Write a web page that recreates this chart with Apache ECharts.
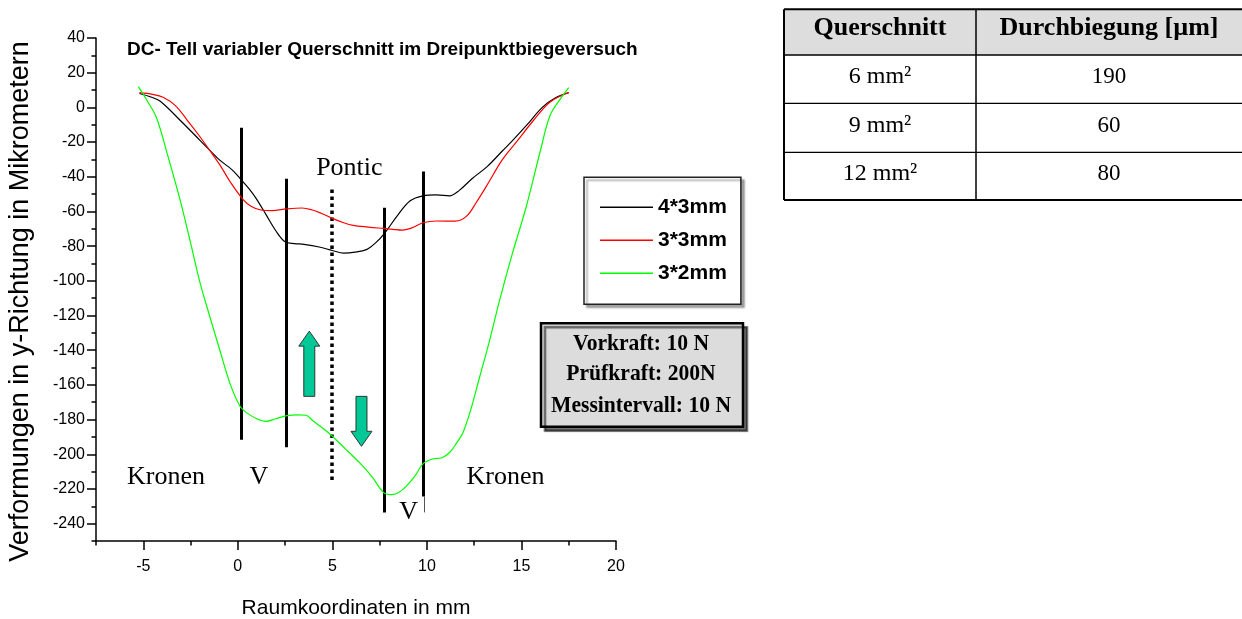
<!DOCTYPE html>
<html><head><meta charset="utf-8">
<script src="https://cdn.jsdelivr.net/npm/echarts@6/dist/echarts.min.js"></script>
<style>html,body{margin:0;padding:0;background:#fff}#c{width:1242px;height:619px}</style>
</head><body><div id="c"></div>
<script>
// ---------- data ----------
const seriesNames = ['4*3mm', '3*3mm', '3*2mm'];
const curve43 = [[-5.2,8],[-4.6,6],[-4.1,3.5],[-3.0,-8],[-2.0,-19],[-1.0,-30],[-0.3,-36],[0.2,-42],[0.6,-47],[1.0,-53],[1.5,-62],[2.0,-71],[2.5,-77.5],[3.0,-78.5],[3.5,-79],[4.3,-80.5],[5.0,-82.5],[5.6,-84],[6.2,-83.5],[6.8,-82],[7.3,-78],[7.8,-72],[8.4,-63],[9.1,-54],[9.8,-51],[10.5,-50.5],[11.2,-51],[11.7,-48],[12.4,-41],[13.2,-34],[14.0,-25],[14.5,-19.5],[15.3,-10],[16.1,0],[16.8,5.5],[17.5,8.5]];
const curve33 = [[-5.2,8.5],[-4.5,7.5],[-3.95,5.8],[-3.3,1],[-2.7,-7],[-2.1,-15.5],[-1.47,-25],[-0.9,-34],[-0.4,-43],[0.27,-53],[0.7,-57],[1.17,-59],[1.8,-59.5],[2.6,-58.5],[3.4,-58],[3.9,-59],[4.4,-61],[5.0,-64],[5.6,-66.5],[6.1,-68],[6.9,-69],[7.7,-69.8],[8.2,-70.3],[8.7,-70.8],[9.2,-69.5],[9.8,-66.5],[10.5,-65.5],[11.5,-65.6],[12.1,-62.7],[12.6,-55],[13.15,-45.4],[14.0,-30],[14.8,-19],[15.6,-8],[16.5,3],[17.5,8.6]];
const curve32 = [[-5.26,12],[-4.8,4],[-4.3,-6],[-3.7,-28],[-3.06,-53],[-2.5,-78],[-2.0,-101],[-1.47,-121],[-0.95,-140],[-0.42,-159],[0.1,-172],[0.46,-176],[1.0,-179.5],[1.5,-181],[2.0,-179.5],[2.6,-177.7],[3.2,-177.3],[3.6,-177.5],[4.0,-181],[4.5,-185],[5.0,-189.6],[5.7,-197],[6.45,-205],[7.1,-213],[7.7,-222],[8.1,-223.3],[8.5,-222],[8.9,-218.5],[9.4,-212],[9.8,-205.4],[10.3,-202.7],[10.8,-202],[11.2,-199],[11.6,-193],[11.9,-187.7],[12.3,-175],[12.8,-155],[13.3,-135],[13.85,-111],[14.5,-85],[15.26,-57],[16.0,-25],[16.5,-5],[17.0,4],[17.5,11.4]];

const xMajorTicks = [-5, 0, 5, 10, 15, 20];
const yMajorTicks = [-240,-220,-200,-180,-160,-140,-120,-100,-80,-60,-40,-20,0,20,40];

const dividerX = [0.2, 2.55, 7.74, 9.8];
const dividerTop = [-11.7, -41.1, -57.9, -36.9];
const dividerBottom = [-191.6, -196, -233.5, -224.3];
const ponticX = 4.97, ponticTop = -47.3, ponticBottom = -216.6;
const thinX = 9.85, thinTop = -224.3, thinBottom = -233.5;

const arrowX = [3.78, 6.54];
const arrowFrom = [-166.6, -166.6];
const arrowTo = [-129, -195.4];

const annotationText = ['Pontic', 'Kronen', 'V', 'Kronen', 'V'];
const annotationX = [5.9, -3.8, 1.11, 14.16, 9.03];
const annotationY = [-35.2, -213.2, -213, -213.2, -233.4];

const titleText = 'DC- Tell variabler Querschnitt im Dreipunktbiegeversuch';
const xName = 'Raumkoordinaten in mm';
const yName = 'Verformungen in y-Richtung in Mikrometern';
const infoLines = ['Vorkraft: 10 N', 'Prüfkraft: 200N', 'Messintervall: 10 N'];
const tableHeader = ['Querschnitt', 'Durchbiegung [µm]'];
const tableCrossSection = ['6 mm²', '9 mm²', '12 mm²'];
const tableDeflection = ['190', '60', '80'];

// ---------- styles ----------
const SANS = '"Liberation Sans", Arial, sans-serif';
const SERIF = '"Liberation Serif", "Times New Roman", serif';
const colors = ['#000000', '#ff0000', '#00ff00'];

const chart = echarts.init(document.getElementById('c'), null, {renderer: 'canvas'});

// table graphic
const tX0 = 784, tX1 = 1242, tColX = 976;
const tRowY = [9.3, 55, 103.3, 152.3, 200];
const tableEls = [];
tableEls.push({type:'rect', shape:{x:tX0, y:tRowY[0], width:tX1-tX0, height:tRowY[1]-tRowY[0]}, style:{fill:'#dddddd'}});
tableEls.push({type:'line', shape:{x1:tX0, y1:tRowY[0], x2:tX1, y2:tRowY[0]}, style:{stroke:'#000', lineWidth:2}});
tableEls.push({type:'line', shape:{x1:tX0, y1:tRowY[1], x2:tX1, y2:tRowY[1]}, style:{stroke:'#000', lineWidth:1.7}});
tableEls.push({type:'line', shape:{x1:tX0, y1:tRowY[2], x2:tX1, y2:tRowY[2]}, style:{stroke:'#000', lineWidth:1.3}});
tableEls.push({type:'line', shape:{x1:tX0, y1:tRowY[3], x2:tX1, y2:tRowY[3]}, style:{stroke:'#000', lineWidth:1.3}});
tableEls.push({type:'line', shape:{x1:tX0, y1:tRowY[4], x2:tX1, y2:tRowY[4]}, style:{stroke:'#000', lineWidth:2}});
tableEls.push({type:'line', shape:{x1:tX0, y1:tRowY[0], x2:tX0, y2:tRowY[4]}, style:{stroke:'#000', lineWidth:2}});
tableEls.push({type:'line', shape:{x1:tColX, y1:tRowY[0], x2:tColX, y2:tRowY[4]}, style:{stroke:'#000', lineWidth:1.5}});
const colCenters = [880, 1109];
tableHeader.forEach((t, i) => tableEls.push({type:'text', x:colCenters[i], y:28.5, style:{text:t, x:0, y:0, fill:'#000', fontFamily:SERIF, fontWeight:'bold', fontSize:26, align:'center', verticalAlign:'middle', textAlign:'center', textVerticalAlign:'middle'}}));
const rowCenters = [77, 125.5, 174];
tableCrossSection.forEach((t, i) => tableEls.push({type:'text', x:colCenters[0], y:rowCenters[i], style:{text:t, x:0, y:0, fill:'#000', fontFamily:SERIF, fontSize:24, align:'center', verticalAlign:'middle', textAlign:'center', textVerticalAlign:'middle'}}));
tableDeflection.forEach((t, i) => tableEls.push({type:'text', x:colCenters[1], y:rowCenters[i], style:{text:t, x:0, y:0, fill:'#000', fontFamily:SERIF, fontSize:23, align:'center', verticalAlign:'middle', textAlign:'center', textVerticalAlign:'middle'}}));

// info box graphic
const infoEls = [
  {type:'rect', shape:{x:541, y:323.3, width:202, height:103.4}, style:{fill:'#dcdcdc', stroke:'#000', lineWidth:2.5, shadowColor:'rgba(0,0,0,0.55)', shadowOffsetX:4, shadowOffsetY:4, shadowBlur:1}}
];
const infoY = [343.3, 373.3, 405.7];
infoLines.forEach((t, i) => infoEls.push({type:'text', x:641, y:infoY[i], scaleX:0.9, style:{text:t, x:0, y:0, fill:'#000', fontFamily:SERIF, fontWeight:'bold', fontSize:24, align:'center', verticalAlign:'middle', textAlign:'center', textVerticalAlign:'middle'}}));

const dividerData = dividerX.map((x, i) => [{coord:[x, dividerTop[i]]}, {coord:[x, dividerBottom[i]]}]);
dividerData.push([{coord:[ponticX, ponticTop], lineStyle:{type:[3.5,3.5], width:3.5, cap:'butt'}}, {coord:[ponticX, ponticBottom]}]);
dividerData.push([{coord:[thinX, thinTop], lineStyle:{width:1, color:'#555'}}, {coord:[thinX, thinBottom]}]);

const option = {
  backgroundColor: '#ffffff',
  animation: false,
  title: {
    text: titleText, left: 127, top: 40, padding: 0,
    textStyle: {fontFamily: SANS, fontWeight: 'bold', fontSize: 19, color: '#000'}
  },
  legend: {
    data: seriesNames, orient: 'vertical', left: 584, top: 177.3,
    padding: [19, 14, 20, 16], itemGap: 11, itemWidth: 53, itemHeight: 1.5, icon: 'rect',
    backgroundColor: '#fff', borderColor: '#222', borderWidth: 1.5,
    shadowColor: 'rgba(0,0,0,0.35)', shadowOffsetX: 3, shadowOffsetY: 3, shadowBlur: 2,
    textStyle: {fontFamily: SANS, fontWeight: 'bold', fontSize: 21, color: '#000', lineHeight: 22}
  },
  grid: {left: 96, top: 38, width: 520, height: 503, containLabel: false, outerBoundsMode: 'none'},
  xAxis: [{
    type: 'value', min: -7.5, max: 20, interval: 2.5,
    name: xName, nameLocation: 'middle', nameGap: 57,
    nameTextStyle: {fontFamily: SANS, fontSize: 21, color: '#000'},
    axisLine: {onZero: false, lineStyle: {color: '#000', width: 1.5}},
    axisTick: {length: 4.5, lineStyle: {color: '#000', width: 1.5}},
    axisLabel: {margin: 18, fontFamily: SANS, fontSize: 16, color: '#000',
      formatter: v => (Math.abs(v % 5) < 1e-6 ? String(v) : '')},
    splitLine: {show: false}
  }, {
    type: 'value', min: -7.5, max: 20, position: 'bottom',
    axisLine: {show: false, onZero: false},
    axisTick: {length: 9, customValues: xMajorTicks, lineStyle: {color: '#000', width: 1.5}},
    axisLabel: {show: false},
    splitLine: {show: false}
  }],
  yAxis: [{
    type: 'value', min: -250, max: 40, interval: 10,
    name: yName, nameLocation: 'middle', nameGap: 62,
    nameTextStyle: {fontFamily: SANS, fontSize: 27, color: '#000', padding: [0, 24, 0, 0]},
    axisLine: {onZero: false, lineStyle: {color: '#000', width: 1.5}},
    axisTick: {length: 4.5, lineStyle: {color: '#000', width: 1.5}},
    axisLabel: {margin: 11, fontFamily: SANS, fontSize: 16, color: '#000',
      formatter: v => (Math.abs(v % 20) < 1e-6 ? String(v) : '')},
    splitLine: {show: false}
  }, {
    type: 'value', min: -250, max: 40, position: 'left',
    axisLine: {show: false, onZero: false},
    axisTick: {length: 9, customValues: yMajorTicks, lineStyle: {color: '#000', width: 1.5}},
    axisLabel: {show: false},
    splitLine: {show: false}
  }],
  series: [
    {name: seriesNames[0], type: 'line', data: curve43, smooth: 0.35, showSymbol: false, lineStyle: {color: colors[0], width: 1.2}, itemStyle: {color: colors[0]}, z: 5},
    {name: seriesNames[1], type: 'line', data: curve33, smooth: 0.35, showSymbol: false, lineStyle: {color: colors[1], width: 1.2}, itemStyle: {color: colors[1]}, z: 5},
    {name: seriesNames[2], type: 'line', data: curve32, smooth: 0.35, showSymbol: false, lineStyle: {color: colors[2], width: 1.2}, itemStyle: {color: colors[2]}, z: 5},
    {name: 'dividers', type: 'line', data: [], silent: true, z: 4,
      markLine: {silent: true, symbol: ['none', 'none'], label: {show: false}, animation: false,
        lineStyle: {type: 'solid', color: '#000', width: 3, cap: 'butt'}, emphasis: {disabled: true}, data: dividerData}},
    {name: 'arrows', type: 'custom', silent: true, z: 6, clip: false,
      data: arrowX.map((x, i) => [x, arrowFrom[i], arrowTo[i]]),
      encode: {x: 0, y: [1, 2]},
      renderItem: function (params, api) {
        const p0 = api.coord([api.value(0), api.value(1)]);
        const p1 = api.coord([api.value(0), api.value(2)]);
        const cx = p0[0];
        const dir = p1[1] < p0[1] ? -1 : 1;
        const bw = 5.5, hw = 10.5, hl = 15;
        const hb = p1[1] - dir * hl;
        return {type: 'polygon', shape: {points: [[cx - bw, p0[1]], [cx - bw, hb], [cx - hw, hb], [cx, p1[1]], [cx + hw, hb], [cx + bw, hb], [cx + bw, p0[1]]]},
          style: {fill: '#00c896', stroke: '#2a3a33', lineWidth: 1}};
      }},
    {name: 'annotations', type: 'scatter', silent: true, z: 7, symbolSize: 1,
      itemStyle: {color: 'rgba(0,0,0,0)', opacity: 1},
      data: annotationText.map((t, i) => ({name: t, value: [annotationX[i], annotationY[i]]})),
      label: {show: true, position: 'inside', formatter: '{b}', fontFamily: SERIF, fontSize: 26, color: '#000', opacity: 1}}
  ],
  graphic: [
    {type: 'group', silent: true, children: tableEls},
    {type: 'group', silent: true, children: infoEls}
  ]
};
chart.setOption(option);
</script>
</body></html>
